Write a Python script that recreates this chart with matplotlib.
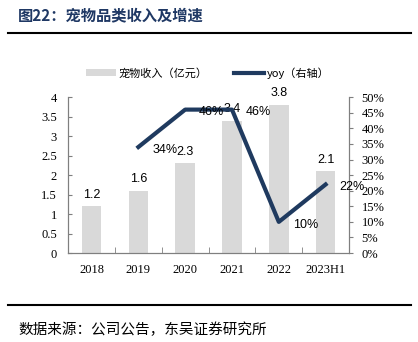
import matplotlib
matplotlib.use("Agg")
import matplotlib.pyplot as plt
from matplotlib.ticker import FuncFormatter, MultipleLocator
from matplotlib.patches import Patch
from matplotlib.lines import Line2D

years = ["2018", "2019", "2020", "2021", "2022", "2023H1"]
revenue = [1.2, 1.6, 2.3, 3.4, 3.8, 2.1]
yoy_years = ["2019", "2020", "2021", "2022", "2023H1"]
yoy = [34, 46, 46, 10, 22]

cjk = ["Noto Sans CJK SC", "DejaVu Sans"]
bar_color = "#d9d9d9"
line_color = "#1f3a5f"
title_color = "#1f3864"
spine_color = "#7f7f7f"

fig = plt.figure(figsize=(4.18, 3.42), dpi=100)
ax = fig.add_axes([0.163, 0.260, 0.672, 0.456])
ax2 = ax.twinx()

x = list(range(len(years)))
ax.bar(x, revenue, width=0.42, color=bar_color, zorder=1)
for xi, v in zip(x, revenue):
    ax.annotate(f"{v}", (xi, v), xytext=(0, 4), textcoords="offset points",
                ha="center", va="bottom", fontsize=9, family="Liberation Sans")

ax.set_ylim(0, 4)
ax.set_xlim(-0.5, len(years) - 0.5)
ax.yaxis.set_major_locator(MultipleLocator(0.5))
ax.yaxis.set_major_formatter(FuncFormatter(lambda v, p: f"{v:g}"))
ax.set_xticks(x)
ax.set_xticklabels(years)
ax.set_xticks([i + 0.5 for i in x[:-1]], minor=True)
ax.tick_params(axis="x", which="major", length=0, pad=8, labelsize=9)
ax.tick_params(axis="x", which="minor", length=4, direction="in", color=spine_color)
ax.tick_params(axis="y", length=3, direction="in", pad=8, labelsize=9, color=spine_color)
for lab in ax.get_xticklabels() + ax.get_yticklabels():
    lab.set_family("Liberation Serif")

yx = [years.index(y) for y in yoy_years]
ax2.plot(yx, yoy, color=line_color, lw=3, zorder=3)
for xi, v in zip(yx, yoy):
    ax2.annotate(f"{v}%", (xi, v), xytext=(10, -2), textcoords="offset points",
                 ha="left", va="center", fontsize=9, family="Liberation Sans", zorder=4)
ax2.set_ylim(0, 50)
ax2.yaxis.set_major_locator(MultipleLocator(5))
ax2.yaxis.set_major_formatter(FuncFormatter(lambda v, p: f"{v:.0f}%"))
ax2.tick_params(axis="y", length=3, direction="out", pad=6, labelsize=9, color=spine_color)
for lab in ax2.get_yticklabels():
    lab.set_family("Liberation Serif")

for a in (ax, ax2):
    a.spines["top"].set_visible(False)
    for s in ("left", "right", "bottom"):
        a.spines[s].set_color(spine_color)
        a.spines[s].set_linewidth(0.8)
ax.patch.set_visible(False)

handles = [Patch(facecolor=bar_color, edgecolor="none"),
           Line2D([0], [0], color=line_color, lw=3)]
labels = ["宠物收入（亿元）", "yoy（右轴）"]
fig.legend(handles, labels, loc="center", bbox_to_anchor=(0.497, 0.787), ncol=2,
           frameon=False, prop={"family": cjk, "size": 8},
           handlelength=2.7, handleheight=0.6, handletextpad=0.25, columnspacing=2.4)

fig.text(0.043, 0.955, "图22：宠物品类收入及增速", family=cjk, fontsize=11,
         fontweight="bold", color=title_color, va="center", ha="left")
fig.add_artist(Line2D([0.02, 0.983], [0.903, 0.903], color="black", lw=1.5))
fig.add_artist(Line2D([0.02, 0.983], [0.108, 0.108], color="black", lw=1.5))
fig.text(0.043, 0.035, "数据来源：公司公告，东吴证券研究所", family=cjk, fontsize=10.5,
         color="black", va="center", ha="left")

fig.savefig("out.png", dpi=100)
